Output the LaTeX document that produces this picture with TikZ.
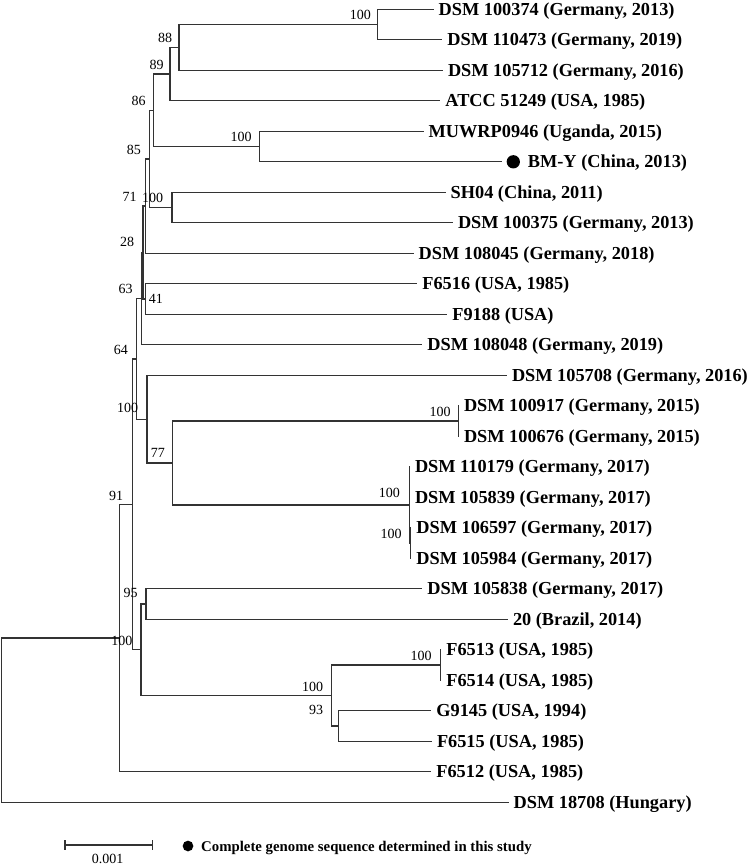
\documentclass[tikz,border=0pt]{standalone}
\usepackage{fontspec}
\setmainfont{Liberation Serif}
\begin{document}
\begin{tikzpicture}[x=1pt,y=-1pt,
  br/.style={line width=1.3pt, draw=black!80, line cap=rect},
  leaf/.style={anchor=base west, inner xsep=5.5pt, inner ysep=0pt, yshift=-6pt, font=\fontsize{18.3}{20}\selectfont\bfseries},
  bs/.style={anchor=base east, inner sep=0pt, font=\fontsize{14}{16}\selectfont},
  dot/.style={circle, fill=black, inner sep=0pt}]
\useasboundingbox (0,0) rectangle (750,866);
% leaf branch ends
\coordinate (l0) at (433,9.3);
\coordinate (l1) at (441.7,39.8);
\coordinate (l2) at (442.3,70.3);
\coordinate (l3) at (439.7,100.8);
\coordinate (l4) at (423,131.3);
\coordinate (l5) at (501.7,161.8);
\coordinate (l6) at (445,192.3);
\coordinate (l7) at (452.3,222.8);
\coordinate (l8) at (413,253.3);
\coordinate (l9) at (416.7,283.8);
\coordinate (l10) at (446.7,314.3);
\coordinate (l11) at (421.7,344.8);
\coordinate (l12) at (506.3,375.3);
\coordinate (l13) at (458.3,405.8);
\coordinate (l14) at (458.3,436.3);
\coordinate (l15) at (409.3,466.8);
\coordinate (l16) at (409.3,497.3);
\coordinate (l17) at (410.7,527.8);
\coordinate (l18) at (410.7,558.3);
\coordinate (l19) at (421.7,588.8);
\coordinate (l20) at (507.3,619.3);
\coordinate (l21) at (440.7,649.8);
\coordinate (l22) at (440.7,680.3);
\coordinate (l23) at (430.7,710.8);
\coordinate (l24) at (431.3,741.3);
\coordinate (l25) at (430.7,771.8);
\coordinate (l26) at (508,802.3);
% internal nodes
\coordinate (A) at (377.7,24.55);
\coordinate (B) at (179,47.4);
\coordinate (C) at (170,74.1);
\coordinate (D) at (259.7,146.55);
\coordinate (E) at (153.7,110.3);
\coordinate (F) at (172,207.55);
\coordinate (G) at (149.3,158.9);
\coordinate (H) at (145.7,206.1);
\coordinate (I) at (145.7,299.05);
\coordinate (N28) at (143,252.6);
\coordinate (N63) at (141.5,298.7);
\coordinate (N100e) at (458.3,421.05);
\coordinate (N100g) at (410.7,543.05);
\coordinate (N100f) at (409.3,504.9);
\coordinate (N77) at (172.7,463);
\coordinate (N100d) at (147,419.15);
\coordinate (N64) at (136.7,358.9);
\coordinate (N95) at (146,604.05);
\coordinate (N100k) at (440.7,665.05);
\coordinate (N93) at (338.5,726.05);
\coordinate (N100j) at (331.5,695.55);
\coordinate (NP) at (141,649.8);
\coordinate (N91) at (132.7,504.35);
\coordinate (N119) at (119.3,638.1);
\coordinate (root) at (1.7,720.2);
% branches
\draw[br] (l0) -| (A) |- (l1);
\draw[br] (A) -| (B) |- (l2);
\draw[br] (B) -| (C) |- (l3);
\draw[br] (l4) -| (D) |- (l5);
\draw[br] (C) -| (E) |- (D);
\draw[br] (l6) -| (F) |- (l7);
\draw[br] (E) -| (G) |- (F);
\draw[br] (G) -| (H) |- (l8);
\draw[br] (l9) -| (I) |- (l10);
\draw[br] (H) -| (N28) |- (I);
\draw[br] (N28) -| (N63) |- (l11);
\draw[br] (l13) -| (N100e) |- (l14);
\draw[br] (l17) -| (N100g) |- (l18);
\draw[br] (l15) -| (N100f) |- (N100g);
\draw[br] (N100e) -| (N77) |- (N100f);
\draw[br] (l12) -| (N100d) |- (N77);
\draw[br] (N63) -| (N64) |- (N100d);
\draw[br] (l19) -| (N95) |- (l20);
\draw[br] (l21) -| (N100k) |- (l22);
\draw[br] (l23) -| (N93) |- (l24);
\draw[br] (N100k) -| (N100j) |- (N93);
\draw[br] (N95) -| (NP) |- (N100j);
\draw[br] (N64) -| (N91) |- (NP);
\draw[br] (N91) -| (N119) |- (l25);
\draw[br] (N119) -| (root) |- (l26);
% leaf labels
\node[leaf] (t0) at (l0) {DSM 100374 (Germany, 2013)};
\node[leaf] (t1) at (l1) {DSM 110473 (Germany, 2019)};
\node[leaf] (t2) at (l2) {DSM 105712 (Germany, 2016)};
\node[leaf] (t3) at (l3) {ATCC 51249 (USA, 1985)};
\node[leaf] (t4) at (l4) {MUWRP0946 (Uganda, 2015)};
\node[dot, minimum size=13.3pt] (bmdot) at (513.3,161.8) {};
\node[leaf, inner xsep=0pt] (t5) at (527.7,161.8) {BM-Y (China, 2013)};
\node[leaf] (t6) at (l6) {SH04 (China, 2011)};
\node[leaf] (t7) at (l7) {DSM 100375 (Germany, 2013)};
\node[leaf] (t8) at (l8) {DSM 108045 (Germany, 2018)};
\node[leaf] (t9) at (l9) {F6516 (USA, 1985)};
\node[leaf] (t10) at (l10) {F9188 (USA)};
\node[leaf] (t11) at (l11) {DSM 108048 (Germany, 2019)};
\node[leaf] (t12) at (l12) {DSM 105708 (Germany, 2016)};
\node[leaf] (t13) at (l13) {DSM 100917 (Germany, 2015)};
\node[leaf] (t14) at (l14) {DSM 100676 (Germany, 2015)};
\node[leaf] (t15) at (l15) {DSM 110179 (Germany, 2017)};
\node[leaf] (t16) at (l16) {DSM 105839 (Germany, 2017)};
\node[leaf] (t17) at (l17) {DSM 106597 (Germany, 2017)};
\node[leaf] (t18) at (l18) {DSM 105984 (Germany, 2017)};
\node[leaf] (t19) at (l19) {DSM 105838 (Germany, 2017)};
\node[leaf] (t20) at (l20) {20 (Brazil, 2014)};
\node[leaf] (t21) at (l21) {F6513 (USA, 1985)};
\node[leaf] (t22) at (l22) {F6514 (USA, 1985)};
\node[leaf] (t23) at (l23) {G9145 (USA, 1994)};
\node[leaf] (t24) at (l24) {F6515 (USA, 1985)};
\node[leaf] (t25) at (l25) {F6512 (USA, 1985)};
\node[leaf] (t26) at (l26) {DSM 18708 (Hungary)};
% bootstrap values
\node[bs] (bA) at (371,19.6) {100};
\node[bs] (bB) at (172.3,42.9) {88};
\node[bs] (bC) at (163.7,69.6) {89};
\node[bs] (bE) at (145.7,105.3) {86};
\node[bs] (bD) at (251.7,141.6) {100};
\node[bs] (bG) at (141,154.6) {85};
\node[bs] (bF) at (163.3,202.6) {100};
\node[bs] (bH) at (136.7,201.6) {71};
\node[bs] (b28) at (134.3,246.3) {28};
\node[bs] (b63) at (132.7,293.9) {63};
\node[bs] (b41) at (163,303.9) {41};
\node[bs] (b64) at (128,354.6) {64};
\node[bs] (b100d) at (138.3,412.3) {100};
\node[bs] (b77) at (165,457.9) {77};
\node[bs] (b91) at (123.3,500.3) {91};
\node[bs] (b100e) at (450.7,416.9) {100};
\node[bs] (b100f) at (400,497.9) {100};
\node[bs] (b100g) at (401.7,538.9) {100};
\node[bs] (b95) at (137.7,597.3) {95};
\node[bs] (bP) at (132.5,645.1) {100};
\node[bs] (b100j) at (323.3,691.3) {100};
\node[bs] (b93) at (323.3,714.6) {93};
\node[bs] (b100k) at (431.7,660.6) {100};
% scale bar and legend
\coordinate (sbL) at (65,845);
\coordinate (sbR) at (152.7,845);
\draw[br, line cap=butt] (sbL) -- (sbR);
\draw[br, line cap=butt] ([yshift=5pt]sbL) -- ([yshift=-5pt]sbL);
\draw[br, line cap=butt] ([yshift=5pt]sbR) -- ([yshift=-5pt]sbR);
\node[font=\fontsize{14}{16}\selectfont, inner sep=0pt] (sbtext) at (107.5,859) {0.001};
\node[dot, minimum size=10.7pt] (fdot) at (188,846) {};
\node[anchor=base west, inner sep=0pt, font=\fontsize{14.8}{17}\selectfont\bfseries] (ftext) at (201,851) {Complete genome sequence determined in this study};
\end{tikzpicture}
\end{document}
